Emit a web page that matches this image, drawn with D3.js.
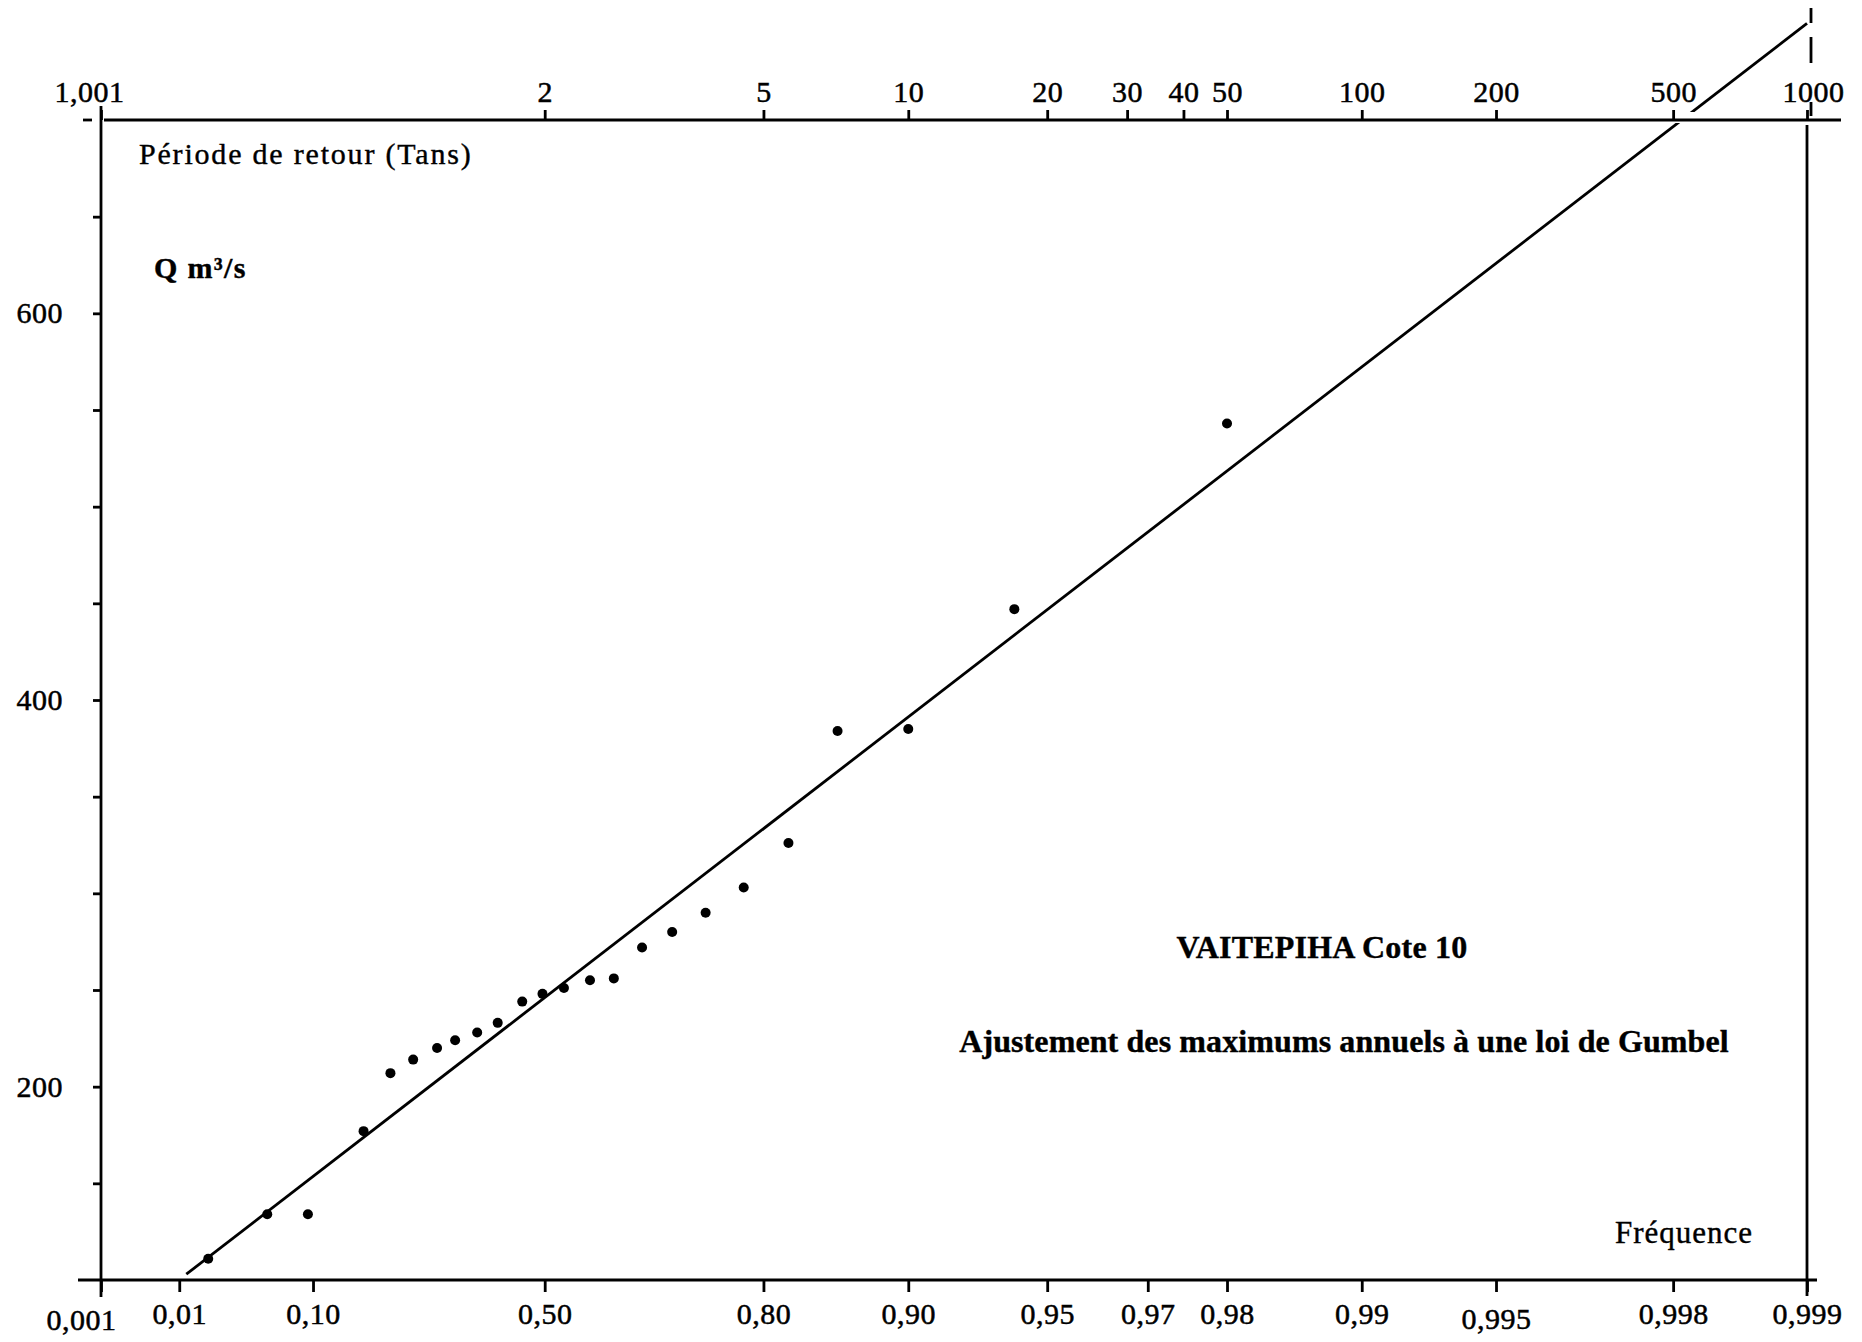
<!DOCTYPE html>
<html><head><meta charset="utf-8">
<script src="https://cdn.jsdelivr.net/npm/d3@7"></script>
<style>body{margin:0;background:#fff}</style>
</head><body>
<svg id="chart" width="1862" height="1342"></svg>
<script>
// ---- data ----
const freqTicks  = [0.001, 0.01, 0.10, 0.50, 0.80, 0.90, 0.95, 0.97, 0.98, 0.99, 0.995, 0.998, 0.999];
const freqLabels = ["0,001","0,01","0,10","0,50","0,80","0,90","0,95","0,97","0,98","0,99","0,995","0,998","0,999"];
const periodTicks  = [1.001, 2, 5, 10, 20, 30, 40, 50, 100, 200, 500, 1000];
const periodLabels = ["1,001","2","5","10","20","30","40","50","100","200","500","1000"];
const qTicks = [150, 200, 250, 300, 350, 400, 450, 500, 550, 600, 650];
const qLabelled = [200, 400, 600];

// observed annual maxima (empirical frequency, discharge m3/s)
const obsFreq = [0.019,0.054,0.094,0.170,0.214,0.254,0.298,0.332,0.374,0.413,0.459,0.496,
                 0.534,0.578,0.616,0.658,0.699,0.740,0.781,0.822,0.859,0.900,0.941,0.980];
const obsQ    = [111,134,134,177,207,214,220,224,228,233,244,248,
                 251,255,256,272,280,290,303,326,384,385,447,543];

// fitted Gumbel line end points (frequency, discharge)
const fitFreq = [0.0118, 0.999];
const fitQ    = [103, 750];

// ---- drawing ----
const W = 1862, H = 1342;
const gumbel = f => -Math.log(-Math.log(f));
const x = d3.scaleLinear().domain([gumbel(0.001), gumbel(0.999)]).range([101, 1807]);
const y = d3.scaleLinear().domain([100, 700]).range([1280, 120]);
const font = "'Liberation Serif','Times New Roman',serif";

const svg = d3.select('#chart');
svg.append('rect').attr('width', W).attr('height', H).attr('fill', '#fff');

const defs = svg.append('defs');
defs.append('clipPath').attr('id','below').append('rect')
  .attr('x',0).attr('y',y(700)+3).attr('width',W).attr('height',H);
defs.append('clipPath').attr('id','above').append('rect')
  .attr('x',0).attr('y',0).attr('width',W).attr('height',y(700)-8);

const axisStroke = 2.8;
const x0 = x(gumbel(0.001)), x1 = x(gumbel(0.999));

// frame lines
const frame = svg.append('g').attr('stroke','#000').attr('stroke-width',axisStroke).attr('fill','none');
frame.append('line').attr('x1',104).attr('x2',1841).attr('y1',y(700)).attr('y2',y(700));
frame.append('line').attr('x1',83).attr('x2',92).attr('y1',y(700)).attr('y2',y(700));
frame.append('line').attr('x1',78).attr('x2',1817).attr('y1',y(100)).attr('y2',y(100));
frame.append('line').attr('x1',x0).attr('x2',x0).attr('y1',106).attr('y2',1297);
frame.append('line').attr('x1',x1).attr('x2',x1).attr('y1',125).attr('y2',1296);
[[8,23],[37,63],[102,116]].forEach(s =>
  frame.append('line').attr('x1',x1+4).attr('x2',x1+4).attr('y1',s[0]).attr('y2',s[1]));

function styleAxis(g, size){
  g.select('.domain').remove();
  g.selectAll('.tick line').attr('stroke','#000').attr('stroke-width',axisStroke);
  g.selectAll('.tick text').attr('fill','#000').attr('stroke','#000').attr('stroke-width',0.5)
    .style('font-family',font).style('font-size',size+'px').style('letter-spacing','0.5px');
}

// bottom: frequency
const gB = svg.append('g').attr('transform',`translate(0,${y(100)})`)
  .call(d3.axisBottom(x).tickValues(freqTicks.map(gumbel))
    .tickFormat((d,i)=>freqLabels[i]).tickSize(12).tickPadding(11).tickSizeOuter(0));
styleAxis(gB, 30);
gB.selectAll('.tick text').each(function(d,i){
  const t = d3.select(this);
  if (freqLabels[i] === "0,001") t.attr('dx',-20).attr('dy','0.9em');
  if (freqLabels[i] === "0,995") t.attr('dy','0.85em');
});

// top: return period
const gT = svg.append('g').attr('transform',`translate(0,${y(700)})`)
  .call(d3.axisTop(x).tickValues(periodTicks.map(T=>gumbel(1-1/T)))
    .tickFormat((d,i)=>periodLabels[i]).tickSize(10).tickPadding(8).tickSizeOuter(0));
styleAxis(gT, 30);
gT.selectAll('.tick text').each(function(d,i){
  if (periodLabels[i] === "1,001") d3.select(this).attr('dx',-12);
  if (periodLabels[i] === "1000") d3.select(this).attr('dx',6);
});

// left: discharge
const gL = svg.append('g').attr('transform',`translate(${x0},0)`)
  .call(d3.axisLeft(y).tickValues(qTicks)
    .tickFormat(d => qLabelled.includes(d) ? String(d) : "").tickSize(8).tickPadding(30).tickSizeOuter(0));
styleAxis(gL, 30);

// fitted line (broken where it crosses the top axis)
const line = d3.line().x(d=>x(gumbel(d[0]))).y(d=>y(d[1]));
const fitPts = fitFreq.map((f,i)=>[f, fitQ[i]]);
['below','above'].forEach(c =>
  svg.append('path').datum(fitPts).attr('d',line).attr('clip-path',`url(#${c})`)
    .attr('fill','none').attr('stroke','#000').attr('stroke-width',2.8));

// observations
svg.append('g').selectAll('circle').data(obsFreq.map((f,i)=>[f,obsQ[i]])).join('circle')
  .attr('cx',d=>x(gumbel(d[0]))).attr('cy',d=>y(d[1])).attr('r',5).attr('fill','#000');

// texts
const txt = (s, px, py, size, weight, anchor, ls) => svg.append('text')
  .attr('x',px).attr('y',py).attr('text-anchor',anchor||'start')
  .style('font-family',font).style('font-size',size+'px').style('font-weight',weight||'normal')
  .style('letter-spacing',(ls||0)+'px').attr('fill','#000')
  .attr('stroke','#000').attr('stroke-width',0.4).text(s);

txt('Période de retour (Tans)', 139, 164, 30, 'normal', 'start', 1.8);
txt('Q m³/s', 154, 278, 30, 'bold', 'start', 1.3);
txt('VAITEPIHA Cote 10', 1322, 958, 32, 'bold', 'middle', 0.2);
txt('Ajustement des maximums annuels à une loi de Gumbel', 1344, 1052, 32, 'bold', 'middle', 0.1);
txt('Fréquence', 1753, 1243, 31, 'normal', 'end', 1);
</script>
</body></html>
